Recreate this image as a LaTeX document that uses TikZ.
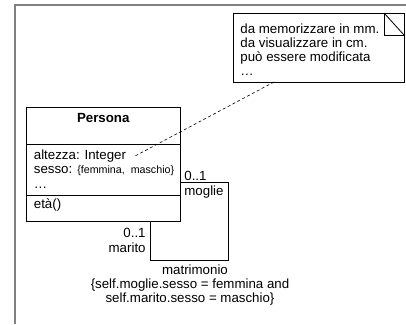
\documentclass[tikz,border=0pt]{standalone}
\usepackage{fontspec}
\setmainfont{Liberation Sans}
\usepackage{tikz}
\usetikzlibrary{positioning}

\begin{document}
\begin{tikzpicture}[x=1pt,y=-1pt,line width=0.8pt,font=\fontsize{13.3}{14}\selectfont]
  \tikzstyle{classbox}=[draw,inner sep=0pt,outer sep=0pt,minimum width=153.5pt,anchor=north west]
  \tikzstyle{txt}=[inner sep=0pt,anchor=base west]
  \tikzstyle{rtxt}=[inner sep=0pt,anchor=base east]
  \tikzstyle{ctxt}=[inner sep=0pt,anchor=base]
  \useasboundingbox (0,0) rectangle (406,324);
  \draw[gray,line width=1.3pt] (15,324) -- (15,5) -- (406,5);

  \node[classbox,minimum height=37.5pt] (titolo)    at (26.5,107)       {};
  \node[classbox,minimum height=51pt]   (attributi) [below=0pt of titolo]    {};
  \node[classbox,minimum height=26pt]   (operazioni)[below=0pt of attributi] {};

  \node[ctxt,font=\fontsize{13.3}{14}\bfseries] (persona) at ([yshift=-15.5pt]titolo.north) {Persona};
  \node[txt] (altezza) at ([xshift=7pt,yshift=-15pt]attributi.north west) {altezza: Integer};
  \node[txt] (sesso)   at ([yshift=-14pt]altezza.base west) {sesso: {\fontsize{10.7}{12}\selectfont\{femmina,\ \ maschio\}}};
  \node[txt] (altro)   at ([yshift=-14.5pt]sesso.base west) {…};
  \node[txt] (eta)     at ([xshift=7pt,yshift=-13pt]operazioni.north west) {età()};

  \node[draw,inner sep=0pt,outer sep=0pt,minimum width=171pt,minimum height=69pt,anchor=north west] (nota) at (233,13) {};
  \draw (nota.north east) rectangle ++(-20,22);
  \draw ([xshift=-20pt]nota.north east) -- ++(20,22);
  \node[txt] (riga1) at ([xshift=7pt,yshift=-20pt]nota.north west) {da memorizzare in mm.};
  \node[txt] (riga2) [below=14pt of riga1.base west,anchor=base west] {da visualizzare in cm.};
  \node[txt] (riga3) [below=14pt of riga2.base west,anchor=base west] {può essere modificata};
  \node[txt] (riga4) [below=14pt of riga3.base west,anchor=base west] {…};

  \draw[dash pattern=on 3pt off 2.5pt,line width=0.6pt] ([xshift=-44.5pt]nota.south) -- ([xshift=8.5pt]altezza.east);

  \draw ([yshift=-12pt]attributi.east) -- ++(48,0) -- ++(0,78) -| ([xshift=47pt]operazioni.south);

  \node[txt]  (molt1)  at (184,180) {0..1};
  \node[txt]  (moglie) at (184,195) {moglie};
  \node[rtxt] (molt2)  at (146,237) {0..1};
  \node[rtxt] (marito) at (146,252) {marito};
  \node[ctxt] (matrimonio) at (195,274) {matrimonio};
  \node[ctxt] (vincolo1) at (190,288) {\{self.moglie.sesso = femmina and};
  \node[ctxt] (vincolo2) at (190,302) {self.marito.sesso = maschio\}};
\end{tikzpicture}
\end{document}
